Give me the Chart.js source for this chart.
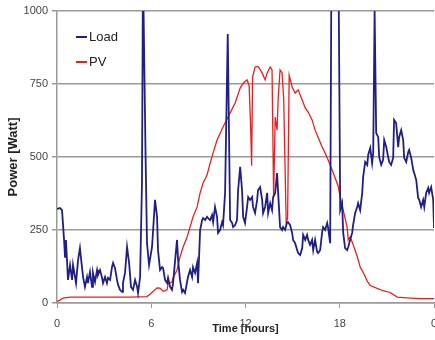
<!DOCTYPE html>
<html>
<head>
<meta charset="utf-8">
<script src="https://cdn.jsdelivr.net/npm/chart.js@4.4.0/dist/chart.umd.min.js"></script>
<style>
html, body { margin: 0; padding: 0; overflow: hidden; background: #fff; }
#wrap { width: 446px; height: 340px; }
</style>
</head>
<body>
<div id="wrap"><canvas id="powerChart" width="446" height="340"></canvas></div>
<script>
// time of day in hours, power in watt
const loadHours = [0.00, 0.19, 0.32, 0.45, 0.51, 0.57, 0.70, 0.83, 0.96, 1.02, 1.21, 1.34, 1.46, 1.59, 1.66, 1.78, 1.91, 1.97,
    2.10, 2.23, 2.29, 2.42, 2.55, 2.61, 2.74, 2.87, 2.93, 3.06, 3.18, 3.25, 3.38, 3.50, 3.57, 3.69, 3.82, 3.89,
    4.01, 4.14, 4.20, 4.33, 4.46, 4.59, 4.71, 4.84, 4.97, 5.10, 5.16, 5.29, 5.41, 5.46, 5.51, 5.64, 5.73, 5.86,
    6.05, 6.24, 6.37, 6.43, 6.56, 6.69, 6.75, 6.88, 7.01, 7.07, 7.20, 7.32, 7.39, 7.52, 7.64, 7.71, 7.83, 7.96,
    8.03, 8.15, 8.28, 8.34, 8.47, 8.60, 8.66, 8.79, 8.92, 8.98, 9.11, 9.24, 9.30, 9.43, 9.55, 9.62, 9.75, 9.87, 9.94,
    10.06, 10.19, 10.25, 10.38, 10.51, 10.57, 10.70, 10.87, 11.02, 11.15, 11.21, 11.34, 11.46, 11.53, 11.66, 11.78, 11.85, 11.97,
    12.10, 12.17, 12.29, 12.42, 12.48, 12.61, 12.74, 12.80, 12.93, 13.06, 13.12, 13.25, 13.38, 13.44, 13.57, 13.69, 13.76, 13.89,
    14.01, 14.08, 14.20, 14.33, 14.39, 14.52, 14.65, 14.71, 14.84, 14.97, 15.03, 15.16, 15.29, 15.35, 15.48, 15.61, 15.67, 15.80, 15.92, 15.99,
    16.11, 16.24, 16.31, 16.43, 16.56, 16.62, 16.75, 16.88, 16.94, 17.07, 17.20, 17.26, 17.39, 17.47, 17.92,
    18.03, 18.15, 18.22, 18.34, 18.47, 18.54, 18.66, 18.79, 18.85, 18.98, 19.11, 19.17, 19.30, 19.43, 19.49, 19.62, 19.75, 19.81, 19.94,
    20.06, 20.13, 20.22, 20.32, 20.45, 20.51, 20.64, 20.76, 20.83, 20.96, 21.08, 21.15, 21.27, 21.40, 21.46, 21.59, 21.72, 21.78, 21.91,
    22.04, 22.10, 22.23, 22.36, 22.42, 22.55, 22.68, 22.74, 22.87, 22.99, 23.06, 23.18, 23.31, 23.38, 23.50, 23.63, 23.69, 23.82, 23.95, 24.00];
const loadWatts = [322, 325, 318, 216, 158, 216, 79, 130, 79, 130, 68, 147, 188, 123, 89, 55, 89, 68,
    106, 55, 103, 72, 113, 96, 113, 86, 68, 89, 68, 86, 79, 123, 137, 120, 79, 62,
    45, 38, 68, 103, 192, 137, 55, 45, 79, 55, 34, 89, 411, 1000, 1000, 500, 205, 130,
    192, 353, 295, 181, 113, 123, 120, 79, 68, 86, 55, 45, 68, 147, 216, 147, 79, 38,
    45, 34, 72, 89, 113, 89, 123, 103, 137, 68, 250, 284, 291, 284, 295, 291, 284, 301, 277,
    329, 295, 240, 250, 277, 267, 377, 921, 284, 274, 260, 267, 284, 387, 466, 387, 295, 274,
    329, 363, 353, 363, 329, 308, 353, 387, 397, 353, 308, 329, 377, 308, 342, 318, 363, 377,
    445, 377, 260, 250, 260, 250, 277, 277, 267, 240, 216, 205, 181, 171, 164, 188, 233, 216, 233, 216,
    199, 216, 181, 216, 175, 171, 181, 243, 260, 250, 274, 257, 205, 1150, 1150,
    318, 342, 240, 188, 181, 192, 216, 240, 267, 308, 329, 342, 318, 377, 432, 483, 473, 507, 531,
    479, 514, 1000, 582, 568, 500, 473, 490, 558, 534, 500, 483, 473, 497, 627, 616, 534, 568, 592,
    558, 497, 483, 517, 524, 497, 455, 445, 421, 360, 353, 329, 353, 329, 377, 394, 377, 397, 353, 257];

const pvHours = [0.00, 0.19, 0.38, 0.83, 2.74, 4.65, 5.73, 5.92, 6.37, 6.56, 6.75, 7.01, 7.07, 7.32, 7.39, 7.64, 7.83,
    8.03, 8.28, 8.47, 8.66, 8.92, 9.11, 9.30, 9.55, 9.75, 9.94, 10.19, 10.57, 11.02, 11.34, 11.66, 11.85,
    12.10, 12.23, 12.33, 12.39, 12.45, 12.61, 12.80, 13.06, 13.25, 13.38, 13.57, 13.69, 13.79, 13.89,
    14.01, 14.08, 14.20, 14.33, 14.43, 14.59, 14.68, 14.78, 14.97, 15.16, 15.35, 15.61, 15.80, 15.99,
    16.24, 16.43, 16.62, 16.88, 17.07, 17.26, 17.52, 17.71, 17.90, 18.03, 18.22, 18.47, 18.54, 18.66, 18.79, 18.85,
    19.11, 19.30, 19.49, 19.75, 19.94, 20.38, 20.76, 21.21, 21.66, 22.48, 23.12, 24.00];
const pvWatts = [5, 10, 17, 20, 20, 20, 22, 30, 52, 51, 40, 45, 66, 72, 86, 113, 158,
    192, 226, 260, 295, 329, 377, 411, 438, 479, 514, 558, 603, 651, 685, 736, 753,
    764, 745, 600, 470, 774, 808, 810, 788, 764, 788, 808, 798, 363, 637,
    592, 700, 798, 788, 700, 277, 290, 780, 740, 719, 730, 695, 668, 654,
    627, 592, 568, 534, 514, 490, 455, 428, 400, 363, 318, 260, 216, 226, 209, 200,
    160, 123, 105, 75, 60, 50, 42, 36, 20, 17, 15, 15];

const xTickLabels = ['0', '6', '12', '18', '0'];
const yTickLabels = ['0', '250', '500', '750', '1000'];

const FONT = '"Liberation Sans", Arial, sans-serif';

function toPoints(xs, ys) {
    return xs.map((x, i) => ({ x: x, y: ys[i] }));
}

// legend drawn inside the plot, top left
const insideLegend = {
    id: 'insideLegend',
    afterDatasetsDraw(chart) {
        const ctx = chart.ctx;
        const area = chart.chartArea;
        ctx.save();
        ctx.font = '13px ' + FONT;
        ctx.textBaseline = 'middle';
        chart.data.datasets.forEach(function(ds, i) {
            const y = area.top + 26 + i * 25;
            ctx.strokeStyle = ds.borderColor;
            ctx.lineWidth = 2;
            ctx.beginPath();
            ctx.moveTo(area.left + 19, y);
            ctx.lineTo(area.left + 30, y);
            ctx.stroke();
            ctx.fillStyle = '#222';
            ctx.fillText(ds.label, area.left + 32, y);
        });
        ctx.restore();
    }
};

const ctx = document.getElementById('powerChart').getContext('2d');
const powerChart = new Chart(ctx, {
    type: 'line',
    data: {
        datasets: [{
            label: 'Load',
            data: toPoints(loadHours, loadWatts),
            borderColor: '#1f1f86',
            borderWidth: 1.8,
            pointRadius: 0,
            tension: 0,
            fill: false
        }, {
            label: 'PV',
            data: toPoints(pvHours, pvWatts),
            borderColor: '#ee1d1d',
            borderWidth: 1.3,
            pointRadius: 0,
            tension: 0,
            fill: false
        }]
    },
    options: {
        responsive: false,
        animation: false,
        devicePixelRatio: 1,
        layout: {
            padding: { top: 11, right: 12, left: 0, bottom: 0 }
        },
        plugins: {
            legend: { display: false },
            tooltip: { enabled: false }
        },
        scales: {
            x: {
                type: 'linear',
                min: 0,
                max: 24,
                afterFit: function(scale) {
                    scale.height = 37;
                    scale.paddingLeft = 0;
                    scale.paddingRight = 0;
                },
                ticks: {
                    stepSize: 6,
                    padding: 9,
                    color: '#444',
                    font: { family: FONT, size: 11 },
                    maxRotation: 0,
                    callback: function(value) {
                        return xTickLabels[Math.round(value / 6)];
                    }
                },
                grid: {
                    drawOnChartArea: false,
                    drawTicks: true,
                    tickLength: 5,
                    color: '#9a9a9a',
                    lineWidth: 1
                },
                border: { display: true, color: '#9a9a9a', width: 1.5 },
                title: {
                    display: true,
                    text: 'Time [hours]',
                    color: '#222',
                    font: { family: FONT, size: 11, weight: 'bold' },
                    padding: { top: 0, bottom: 4 }
                }
            },
            y: {
                min: 0,
                max: 1000,
                afterFit: function(scale) {
                    scale.width = 57;
                    scale.paddingTop = 0;
                    scale.paddingBottom = 0;
                },
                ticks: {
                    stepSize: 250,
                    padding: 4,
                    color: '#444',
                    font: { family: FONT, size: 11 },
                    callback: function(value) {
                        return yTickLabels[Math.round(value / 250)];
                    }
                },
                grid: {
                    color: '#9a9a9a',
                    lineWidth: 1.5,
                    tickLength: 5
                },
                border: { display: true, color: '#9a9a9a', width: 1.5 },
                title: {
                    display: true,
                    text: 'Power [Watt]',
                    color: '#222',
                    font: { family: FONT, size: 13, weight: 'bold' },
                    padding: { top: 6, bottom: 0 }
                }
            }
        }
    },
    plugins: [insideLegend]
});
</script>
</body>
</html>
